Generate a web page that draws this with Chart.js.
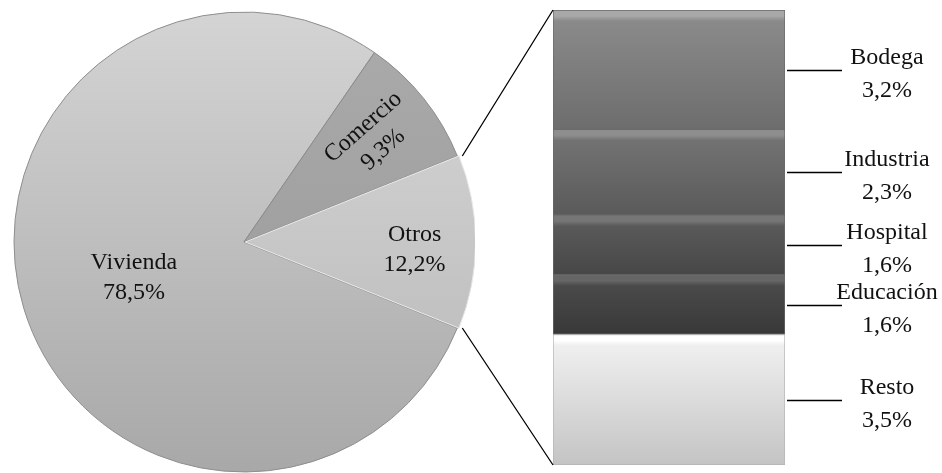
<!DOCTYPE html>
<html>
<head>
<meta charset="utf-8">
<title>Distribución por uso</title>
<script src="https://cdn.jsdelivr.net/npm/chart.js@4.4.1/dist/chart.umd.min.js"></script>
<style>
    html, body { margin: 0; padding: 0; background: #fff; }
    #wrap { position: relative; width: 942px; height: 473px; overflow: hidden; }
    #pieChart { position: absolute; left: 13px; top: 11px; }
    #barChart { position: absolute; left: 0; top: 0; }
</style>
</head>
<body>
<div id="wrap">
    <canvas id="pieChart" width="462" height="462"></canvas>
    <canvas id="barChart" width="942" height="473"></canvas>
</div>
<script>
// -- data -- //
const pieLabels = ['Vivienda', 'Comercio', 'Otros'];
const pieValues = [78.5, 9.3, 12.2];

// breakdown of "Otros", listed top to bottom as in the bar
const barLabels = ['Bodega', 'Industria', 'Hospital', 'Educación', 'Resto'];
const barValues = [3.2, 2.3, 1.6, 1.6, 3.5];

// -- colours (top, bottom of gradient) -- //
const pieColors = [['#d4d4d4', '#a8a8a8'], ['#ababab', '#969696'], ['#d8d8d8', '#b6b6b6']];
const barColors = [['#8a8a8a', '#6d6d6d'], ['#727272', '#5a5a5a'], ['#595959', '#474747'],
                   ['#4a4a4a', '#383838'], ['#efefef', '#c4c4c4']];
const barHighlights = ['#a8a8a8', '#8e8e8e', '#767676', '#666666', '#ffffff'];

const labelFont = '24px "Liberation Serif", "Times New Roman", serif';

function pct(v) {
    return v.toFixed(1).replace('.', ',') + '%';
}

Chart.defaults.font.family = '"Liberation Serif", serif';

// -- Pie -- //
const pieLabelPlugin = {
    id: 'pieLabels',
    afterDatasetsDraw(chart) {
        const ctx = chart.ctx;
        const radiusFrac = [0.5, 0.72, 0.72];
        const nudgeY = [3, 0, 8];
        const arcs = chart.getDatasetMeta(0).data;
        arcs.forEach((arc, i) => {
            const p = arc.getProps(['x', 'y', 'startAngle', 'endAngle', 'outerRadius']);
            const mid = (p.startAngle + p.endAngle) / 2;
            const off = arc.options.offset || 0;
            const r = p.outerRadius * radiusFrac[i] + off;
            const x = p.x + Math.cos(mid) * r;
            const y = p.y + Math.sin(mid) * r + nudgeY[i];
            ctx.save();
            ctx.translate(x, y);
            // Comercio label runs along its slice
            if (i === 1) ctx.rotate(mid - 0.05);
            ctx.font = labelFont;
            ctx.fillStyle = '#111';
            ctx.textAlign = 'center';
            ctx.textBaseline = 'middle';
            ctx.fillText(pieLabels[i], 0, -15);
            ctx.fillText(pct(pieValues[i]), 0, 15);
            ctx.restore();
        });
    }
};

const pieCanvas = document.getElementById('pieChart');
const pieChart = new Chart(pieCanvas, {
    type: 'pie',
    data: {
        labels: pieLabels,
        datasets: [{
            data: pieValues,
            backgroundColor: function(context) {
                const area = context.chart.chartArea;
                const c = pieColors[context.dataIndex];
                if (!area) return c[0];
                const g = context.chart.ctx.createLinearGradient(0, area.top, 0, area.bottom);
                g.addColorStop(0, c[0]);
                g.addColorStop(1, c[1]);
                return g;
            },
            borderColor: ['#8e8e8e', '#8a8a8a', '#e6e6e6'],
            borderWidth: 1,
            offset: [0, 0, 5]
        }]
    },
    options: {
        responsive: false,
        animation: false,
        devicePixelRatio: 1,
        radius: 230,
        // keep "Otros" centred on the right, facing the bar
        rotation: 90 + pieValues[2] * 1.8,
        plugins: {
            legend: { display: false },
            tooltip: { enabled: false }
        }
    },
    plugins: [pieLabelPlugin]
});

// -- Bar of pie -- //
const barTotal = barValues.reduce((a, b) => a + b, 0);

// segment [low, high] in value units, k = top-to-bottom index
function segmentRange(k) {
    let low = 0;
    for (let j = k + 1; j < barValues.length; j++) low += barValues[j];
    return [low, low + barValues[k]];
}

const connectorPlugin = {
    id: 'connectors',
    afterDraw(chart) {
        const ctx = chart.ctx;
        const area = chart.chartArea;
        const arc = pieChart.getDatasetMeta(0).data[2];
        const p = arc.getProps(['x', 'y', 'startAngle', 'endAngle', 'outerRadius']);
        const off = arc.options.offset || 0;
        const mid = (p.startAngle + p.endAngle) / 2;
        const cx = pieCanvas.offsetLeft + p.x + Math.cos(mid) * off;
        const cy = pieCanvas.offsetTop + p.y + Math.sin(mid) * off;

        ctx.save();
        ctx.strokeStyle = '#000';
        ctx.lineWidth = 1.3;
        ctx.beginPath();
        ctx.moveTo(cx + Math.cos(p.startAngle) * p.outerRadius, cy + Math.sin(p.startAngle) * p.outerRadius);
        ctx.lineTo(area.left, area.top);
        ctx.moveTo(cx + Math.cos(p.endAngle) * p.outerRadius, cy + Math.sin(p.endAngle) * p.outerRadius);
        ctx.lineTo(area.left, area.bottom);
        ctx.stroke();

        // leader lines and labels on the right
        ctx.font = labelFont;
        ctx.fillStyle = '#111';
        ctx.textAlign = 'center';
        ctx.textBaseline = 'middle';
        barLabels.forEach((label, k) => {
            const range = segmentRange(k);
            const y = Math.round((chart.scales.y.getPixelForValue(range[0]) +
                                  chart.scales.y.getPixelForValue(range[1])) / 2) + 0.5;
            ctx.beginPath();
            ctx.moveTo(area.right + 2, y);
            ctx.lineTo(area.right + 57, y);
            ctx.stroke();
            ctx.fillText(label, area.right + 102, y - 13);
            ctx.fillText(pct(barValues[k]), area.right + 102, y + 20);
        });
        ctx.restore();
    }
};

// Chart.js stacks from the bottom, so build datasets bottom-up
const barDatasets = barLabels.map((label, k) => ({
    label: label,
    data: [barValues[k]],
    backgroundColor: function(context) {
        const chart = context.chart;
        const c = barColors[k];
        if (!chart.chartArea) return c[0];
        const range = segmentRange(k);
        const top = chart.scales.y.getPixelForValue(range[1]);
        const bottom = chart.scales.y.getPixelForValue(range[0]);
        const h = Math.max(bottom - top, 1);
        const g = chart.ctx.createLinearGradient(0, top, 0, bottom);
        g.addColorStop(0, barHighlights[k]);
        g.addColorStop(Math.min(6 / h, 0.2), barHighlights[k]);
        g.addColorStop(Math.min(11 / h, 0.3), c[0]);
        g.addColorStop(1, c[1]);
        return g;
    },
    borderColor: k === 4 ? '#b4b4b4' : '#6a6a6a',
    borderWidth: 1,
    borderSkipped: false,
    barPercentage: 1,
    categoryPercentage: 1
})).reverse();

const barChart = new Chart(document.getElementById('barChart'), {
    type: 'bar',
    data: {
        labels: ['Otros'],
        datasets: barDatasets
    },
    options: {
        responsive: false,
        animation: false,
        devicePixelRatio: 1,
        events: [],
        layout: {
            padding: { left: 553, right: 157, top: 10, bottom: 8 }
        },
        scales: {
            x: { stacked: true, display: false },
            y: { stacked: true, display: false, min: 0, max: barTotal }
        },
        plugins: {
            legend: { display: false },
            tooltip: { enabled: false }
        }
    },
    plugins: [connectorPlugin]
});
</script>
</body>
</html>
